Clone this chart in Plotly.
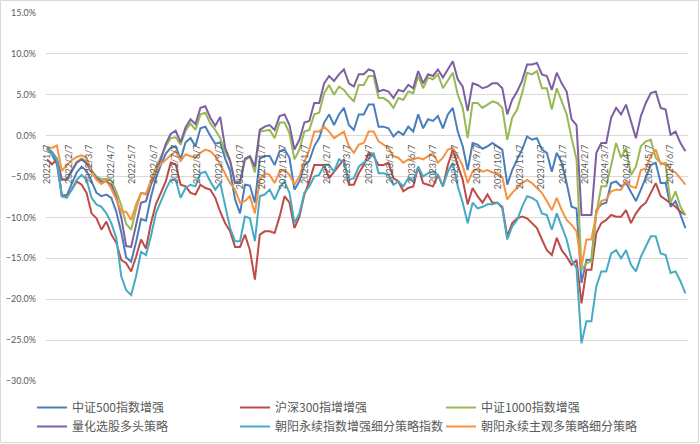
import pandas as pd
import plotly.graph_objects as go

# ---------------- data (weekly, % excess return) ----------------
start_date = "2022-01-07"

zz500 = [-1.5, -2.3, -3.5, -7.3, -7.3, -6.0, -4.5, -3.8, -4.3, -5.6, -7.0, -7.4, -7.2, -7.6, -9.3, -11.8,
         -14.9, -15.4, -13.0, -10.2, -10.4, -7.5, -5.2, -3.6, -2.2, -1.5, -1.3, -2.9, -0.8, -0.3, -1.3, 0.9,
         1.1, 0.0, -1.0, -0.8, -2.8, -4.3, -7.8, -9.5, -6.0, -6.1, -8.2, -2.8, -2.5, -2.5,
         -3.6, -1.9, -1.7, -2.7, -6.6, -5.6, -3.6, -3.1, -1.3, -0.3, 1.6, 2.6, 1.3, 2.6, 3.4, 1.3, 0.7, 2.6,
         2.6, 3.8, 3.8, 1.1, 1.1, 0.9, -0.1, 0.5, 0.1, 1.1, 0.5, 2.6, 0.9, 2.0, 1.8, 2.4, 0.9, 2.6, 3.4, 0.5,
         -1.3, -4.2, -0.9, -1.1, -1.6,
         -1.3, -0.9, -1.3, -1.7, -6.0, -4.2, -2.9, -1.7, -0.1, -0.5, -0.3, -1.7, -2.1, -4.4, -2.1, -3.3, -5.8,
         -8.7, -8.9, -18.0, -15.2, -15.2, -9.1, -8.4, -8.2, -5.8, -5.6, -6.2, -5.8, -7.0, -8.0, -6.6, -5.2,
         -3.6, -3.3, -5.8, -5.8, -8.7, -8.0, -9.7, -11.3]

hs300 = [-2.9, -3.5, -2.9, -7.4, -7.4, -6.6, -5.6, -6.0, -7.0, -9.5, -10.1, -11.5, -10.5, -12.1, -13.1, -15.2,
         -15.6, -16.6, -14.8, -12.7, -13.8, -10.7, -8.4, -7.0, -5.6, -3.3, -3.5, -6.0, -6.2, -7.0, -7.2, -6.0,
         -6.4, -6.6, -7.6, -9.3, -10.7, -11.7, -13.6, -13.6, -12.1, -14.0, -17.6, -12.1, -11.7, -11.7,
         -11.9, -9.9, -7.4, -8.2, -11.3, -9.9, -7.2, -5.6, -3.6, -3.6, -3.6, -5.2, -4.4, -3.6, -2.9, -6.0, -6.0,
         -4.6, -3.6, -2.1, -2.5, -3.6, -3.6, -3.3, -5.2, -5.6, -6.8, -6.4, -6.2, -3.8, -5.8, -6.0, -6.2, -4.8,
         -6.2, -3.6, -1.7, -3.6, -5.4, -8.4, -6.4, -7.4, -8.2,
         -7.2, -8.2, -8.2, -8.7, -12.3, -10.7, -10.1, -9.9, -10.1, -10.7, -11.3, -12.7, -14.0, -14.6, -12.5,
         -14.0, -14.8, -15.8, -15.2, -20.5, -16.4, -16.4, -11.9, -10.7, -10.3, -9.7, -9.9, -9.9, -9.1, -10.7,
         -9.5, -8.7, -8.2, -7.0, -5.8, -7.4, -7.8, -8.2, -8.7, -9.3, -9.7]

zz1000 = [-1.5, -2.0, -2.8, -5.3, -5.3, -4.2, -3.2, -2.8, -3.2, -4.2, -5.0, -5.3, -5.3, -5.5, -6.8, -8.5,
          -10.8, -11.5, -9.0, -7.0, -7.2, -5.5, -3.9, -2.6, -1.3, -0.3, -0.2, -1.1, 0.6, 1.5, 0.7, 2.6, 2.8,
          1.5, 0.7, -0.3, -2.0, -3.2, -5.8, -5.8, -3.0, -2.6, -4.5, 0.5, 0.6, 0.7,
          -0.3, 1.6, 1.6, 0.3, -2.9, -1.7, 0.5, 0.7, 2.6, 2.8, 5.2, 6.2, 5.0, 6.0, 5.6, 4.8, 4.2, 6.2, 6.2,
          7.3, 7.3, 4.6, 4.6, 4.2, 3.4, 4.6, 4.4, 5.4, 5.2, 7.3, 5.8, 7.1, 6.9, 7.5, 5.8, 6.7, 7.7, 5.0, 3.4,
          -0.3, 4.0, 4.0, 3.4,
          3.8, 4.2, 4.0, 3.4, -0.5, 2.2, 3.2, 5.2, 7.7, 7.5, 7.9, 5.8, 5.8, 3.2, 5.8, 4.2, 2.6, -0.3, -2.9,
          -16.4, -15.6, -15.4, -9.5, -6.2, -6.2, -3.6, -0.9, -2.7, -1.5, -4.8, -3.8, -1.3, -0.7, -0.5, -2.7,
          -3.3, -3.6, -8.2, -6.8, -8.7, -9.7]

quant = [-1.6, -2.0, -2.9, -5.4, -5.4, -4.3, -3.3, -2.9, -3.4, -4.4, -5.2, -5.6, -5.6, -6.0, -7.5, -10.0,
         -13.5, -13.6, -11.0, -8.2, -8.0, -6.0, -4.4, -2.9, -1.0, 0.2, 0.6, -0.8, 1.0, 2.0, 1.4, 3.4, 3.6,
         2.2, 1.2, 2.3, -1.5, -3.0, -5.8, -5.6, -2.8, -2.5, -3.8, 0.7, 1.1, 1.3,
         0.7, 2.4, 2.6, 1.3, -1.7, -0.5, 1.6, 1.8, 4.0, 4.0, 6.4, 7.3, 6.7, 7.5, 8.1, 6.4, 6.0, 7.5, 7.5,
         8.1, 7.9, 5.4, 5.6, 5.4, 4.6, 5.6, 5.4, 6.2, 5.8, 7.9, 6.4, 7.5, 7.3, 8.1, 7.1, 8.1, 9.1, 6.9, 6.0,
         3.0, 6.4, 6.2, 5.8,
         6.0, 6.4, 6.4, 5.8, 2.6, 4.4, 5.4, 6.7, 8.7, 8.7, 8.9, 7.5, 7.3, 5.6, 7.7, 6.4, 5.4, 2.0, 1.3,
         -9.7, -9.7, -9.7, -2.1, -0.9, -0.9, 2.2, 3.4, 2.6, 3.8, 1.8, -0.3, 2.4, 4.0, 5.2, 5.4, 3.4, 3.2,
         0.1, 0.5, -0.9, -1.9]

cy_index = [-1.7, -2.1, -2.9, -7.4, -7.6, -6.6, -5.4, -4.8, -5.4, -7.6, -8.4, -8.7, -9.5, -10.7, -12.5, -17.2,
            -18.9, -19.5, -17.2, -14.2, -14.6, -12.3, -9.5, -8.0, -6.6, -5.4, -5.4, -7.6, -6.4, -6.0, -6.2,
            -4.6, -4.4, -5.6, -6.6, -5.8, -8.7, -11.3, -12.9, -12.9, -9.9, -10.1, -12.9, -7.4, -7.2, -6.6,
            -7.8, -6.4, -5.6, -7.0, -10.7, -9.5, -7.0, -6.2, -5.0, -4.8, -3.6, -3.6, -4.4, -2.9, -3.3, -5.4,
            -5.2, -3.8, -3.3, -2.9, -2.1, -4.6, -4.6, -4.8, -6.0, -5.6, -6.2, -5.2, -5.6, -3.8, -5.0, -4.6,
            -4.4, -4.8, -6.2, -4.4, -3.3, -6.2, -8.2, -10.7, -8.2, -8.9, -8.7,
            -8.4, -8.4, -8.2, -8.9, -12.7, -11.1, -10.3, -8.7, -7.4, -7.6, -8.0, -9.5, -9.7, -11.5, -9.5,
            -11.1, -12.7, -15.2, -16.2, -25.4, -22.7, -22.7, -18.4, -16.6, -16.6, -14.4, -14.0, -15.0, -14.0,
            -15.8, -16.6, -14.8, -13.6, -12.3, -12.3, -14.4, -14.6, -16.8, -16.6, -17.8, -19.3]

cy_subjective = [-1.4, -1.5, -1.2, -4.3, -3.6, -3.0, -2.6, -2.4, -2.7, -4.4, -5.4, -5.9, -5.5, -6.5, -7.8,
                 -9.3, -9.3, -10.3, -8.4, -7.0, -7.1, -5.6, -4.2, -3.5, -2.9, -2.4, -1.9, -3.1, -2.3, -2.5,
                 -2.7, -2.1, -1.7, -1.9, -2.5, -3.5, -4.6, -5.8, -6.6, -8.2, -8.0, -7.4, -9.5, -5.4, -4.6, -4.8,
                 -5.8, -4.4, -4.2, -4.8, -6.0, -5.0, -3.2, -1.7, 0.5, 0.5, 1.1, 0.5, -0.3, 0.1, 0.5, -1.3, -2.1,
                 -1.1, -0.9, 0.5, 0.5, -0.7, -1.1, -1.5, -2.5, -2.7, -3.3, -2.9, -2.9, -2.7, -2.9, -2.5, -2.1,
                 -3.3, -2.7, -1.7, -1.5, -2.5, -3.7, -5.8, -4.4, -4.0, -4.4,
                 -4.2, -4.5, -4.6, -5.1, -7.8, -7.0, -6.4, -5.8, -5.4, -5.8, -6.4, -7.0, -8.0, -9.1, -7.6,
                 -9.1, -10.3, -10.9, -11.7, -16.0, -12.7, -12.7, -9.5, -8.0, -7.8, -6.8, -6.6, -6.6, -5.6,
                 -6.2, -6.4, -4.2, -4.0, -2.5, -1.7, -3.5, -3.3, -4.2, -4.5, -5.2, -6.0]

series_names = ["中证500指数增强", "沪深300指增增强", "中证1000指数增强",
                "量化选股多头策略", "朝阳永续指数增强细分策略指数", "朝阳永续主观多策略细分策略"]
series_values = [zz500, hs300, zz1000, quant, cy_index, cy_subjective]
series_colors = ["#4A7EBB", "#BE4B48", "#98B954", "#7D60A0", "#46AAC5", "#F69240"]
series_legend = ["legend", "legend2", "legend3", "legend", "legend2", "legend3"]

n = len(zz500)
for v in series_values:
    assert len(v) == n, (len(v), n)

dates = pd.date_range(start_date, periods=n, freq="7D")

# monthly tick labels (the 7th of each month)
tick_dates = [pd.Timestamp(year=y, month=m, day=7)
              for y in (2022, 2023, 2024) for m in range(1, 13)
              if pd.Timestamp(year=y, month=m, day=7) <= dates[-1]]
tick_text = [f"{d.year}/{d.month}/{d.day}" for d in tick_dates]

# ---------------- figure ----------------
W, H = 700, 444
L, R, T, B = 46, 12, 13, 63
PW, PH = W - L - R, H - T - B
px_per_day = 0.707

fig = go.Figure()
for name, vals, col, lg in zip(series_names, series_values, series_colors, series_legend):
    fig.add_trace(go.Scatter(
        x=dates, y=[v / 100 for v in vals], mode="lines", name=name,
        line=dict(color=col, width=2), legend=lg, hoverinfo="skip"))

x0 = dates[0] - pd.Timedelta(days=1.0 / px_per_day)
x1 = x0 + pd.Timedelta(days=PW / px_per_day)

tickfont = dict(family="Lato, 'Liberation Sans', sans-serif", size=9, color="#595959")
legfont = dict(family="'Noto Sans CJK SC', sans-serif", size=12, color="#595959")


def px_x(p):
    return (p - L) / PW


def px_y(p):
    return (H - B - p) / PH


leg_common = dict(xanchor="left", yanchor="top", orientation="v", font=legfont,
                  bgcolor="rgba(0,0,0,0)", tracegroupgap=0, y=px_y(393))

fig.update_layout(
    width=W, height=H,
    margin=dict(l=L, r=R, t=T, b=B, pad=0, autoexpand=False),
    paper_bgcolor="white", plot_bgcolor="white",
    showlegend=True,
    xaxis=dict(type="date", range=[x0, x1], tickmode="array", tickvals=tick_dates, ticktext=tick_text,
               tickangle=-90, tickfont=tickfont, showgrid=False, zeroline=False, showline=False,
               ticks="", anchor="free", position=30 / 45, ticklabelstandoff=6, fixedrange=True,
               automargin=False),
    yaxis=dict(range=[-0.30, 0.15], dtick=0.05, tick0=0, tickformat=".1%", tickfont=tickfont,
               showgrid=True, gridcolor="#D9D9D9", gridwidth=1, zeroline=False, showline=False,
               ticks="", ticklabelstandoff=9, fixedrange=True, automargin=False),
    legend=dict(x=px_x(32), **leg_common),
    legend2=dict(x=px_x(235), **leg_common),
    legend3=dict(x=px_x(441), **leg_common),
    shapes=[dict(type="rect", xref="paper", yref="paper",
                 x0=px_x(0.5), x1=px_x(698.5), y0=px_y(442.5), y1=px_y(0.5),
                 line=dict(color="#D9D9D9", width=1), fillcolor="rgba(0,0,0,0)", layer="below")],
)

fig.write_html("out.html")
